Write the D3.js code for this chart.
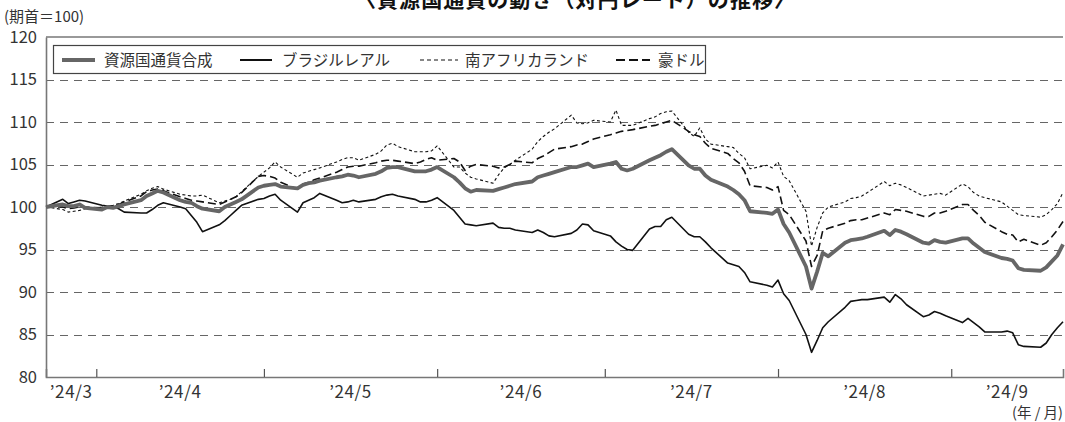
<!DOCTYPE html>
<html><head><meta charset="utf-8">
<script src="https://cdn.jsdelivr.net/npm/d3@7"></script>
<style>
body{margin:0;background:#fff}
svg{display:block}
text{font-family:"Noto Sans CJK JP","Noto Sans",sans-serif;fill:#333}
</style>
</head><body>
<svg id="c" width="1065" height="422"></svg>
<script>
// ---- data ----
const titleText = "〈資源国通貨の動き（対円レート）の推移〉";
const unitLabel = "(期首＝100)";
const xUnitLabel = "(年 / 月)";
const firstDay = "2024-03-22";
const lastDay = "2024-09-20";
const monthStarts = ["2024-04-01","2024-05-01","2024-06-01","2024-07-01","2024-08-01","2024-09-01"];
const monthLabels = ["’24/3","’24/4","’24/5","’24/6","’24/7","’24/8","’24/9"];
const yTicks = [80,85,90,95,100,105,110,115,120];
const seriesNames = ["資源国通貨合成","ブラジルレアル","南アフリカランド","豪ドル"];

const composite = [100,100.3,100.1,100.1,100.3,99.9,
99.7,100,99.9,100.1,100.3,100.8,101.3,101.6,101.9,101.7,100.8,100.6,100.5,100.1,99.8,99.5,100,100.3,100.6,100.9,102.3,102.5,
102.6,102.7,102.4,102.2,102.6,102.8,102.9,103.1,103.5,103.6,103.8,103.7,103.5,103.9,104.2,104.6,104.7,104.7,104.2,104.2,104.2,104.4,104.7,
103.5,102.9,102.2,101.8,102,101.9,102.1,102.3,102.5,102.7,103,103.5,103.7,103.9,104.1,104.7,104.7,104.9,105.1,104.7,
105.1,105.3,104.5,104.3,104.5,105.5,105.8,106.1,106.5,106.8,104.9,104.5,104.5,103.7,103.2,102.4,102,101.5,100.8,99.5,99.3,99.2,99.7,
98,97,93,90.4,92.4,94.6,94.2,95.8,96.1,96.2,96.3,96.5,97.2,96.7,97.3,97.1,96.8,95.8,95.7,96.1,95.9,95.8,
96.3,96.3,95.7,95.2,94.7,94,93.9,93.7,92.8,92.6,92.5,92.9,93.6,94.3,95.6];

const brazil = [100,100.9,100.4,100.6,100.8,100.7,
100.2,100.1,100.1,99.8,99.4,99.3,99.3,99.7,100.2,100.5,100,99.8,99,98.2,97.1,97.9,98.4,99,99.6,100.2,100.9,101,
101.3,101.5,100.8,99.4,100.5,100.8,101.1,101.6,100.8,100.5,100.6,100.8,100.6,100.9,101.2,101.4,101.5,101.3,100.9,100.6,100.6,100.8,101.1,
99.6,98.8,98,97.9,97.8,98.1,97.6,97.5,97.5,97.3,97,97.3,97,96.6,96.5,96.9,97.3,98,97.9,97.2,
96.6,95.9,95.4,95,94.9,97.4,97.7,97.7,98.5,98.8,96.8,96.5,96.5,95.9,95.2,93.4,93.2,93,92.3,91.2,90.8,90.6,91.4,
89.8,89,85,82.9,84.3,85.8,86.5,88.2,88.9,89,89.1,89.1,89.4,88.8,89.7,89.2,88.5,87.1,87.3,87.7,87.5,87.2,
86.4,86.9,86.4,85.9,85.3,85.3,85.4,85.2,83.8,83.6,83.5,84,85,85.8,86.5];

const southAfrica = [100,99.7,99.4,99.5,99.6,99.8,
100,100.1,100.2,100.4,100.7,101.5,101.9,102.2,102.4,102.1,101.5,101.4,101.3,101.3,101.4,100.5,100.7,100.9,101.2,101.8,103.6,104.1,
104.6,105.3,104.7,103.5,104,104.2,104.4,104.6,105.3,105.6,105.8,105.8,105.5,106.2,106.6,107.3,107.5,107.1,106.5,106.5,106.5,106.6,107.2,
104.7,104.7,104,103.5,103.3,102.8,103.8,104.6,105,105.5,106.8,107.7,108.3,108.8,109.2,110.8,109.9,109.8,109.9,110.2,
110,111.4,109.6,109.6,109.6,110.4,110.6,111,111.2,111.3,108.8,108.3,109.3,108,107.4,107.1,107,106.3,105.8,104.5,104.9,104.6,105.3,
103.6,103.1,99.5,95.4,97.6,99.3,100,100.6,101,101.1,101.3,101.7,103,102.5,102.8,102.6,102.3,101.3,101.4,101.5,101.6,101.4,
102.7,102.4,101.7,101.3,101.1,100.6,100.1,99.6,99.1,99,98.8,99.1,99.7,100.4,101.7];

const australia = [100,100,99.8,99.9,100,100,
99.9,100,100.1,100.3,100.6,101.3,101.8,102,102.1,101.9,101.2,101,100.8,100.7,100.6,100.3,100.6,100.9,101.2,101.7,103.6,103.7,
103.6,103.4,102.9,102.1,102.7,102.9,103.2,103.4,104.1,104.4,104.7,104.8,104.8,105.2,105.4,105.5,105.5,105.4,105.1,105.3,105.6,105.8,105.5,
105.7,105.3,104.3,104.8,105,104.8,104.6,104.7,105,105.4,105.2,105.7,106,106.4,106.8,107.1,107.3,107.4,107.7,108,
108.5,108.7,108.9,109,109.1,109.5,109.6,109.8,110,110.2,108.9,108.5,108.3,107.5,106.9,106.3,105.7,105.2,104.2,102.5,102.3,102,102.4,
99.6,99.1,96,93,94.3,97.2,97.5,98.1,98.4,98.5,98.5,98.7,99.3,99.1,99.7,99.6,99.5,98.9,98.9,99.3,99.3,99.5,
100.3,100.3,99.6,99,98.2,97.1,96.8,96.7,95.9,96.2,95.5,95.8,96.5,97.3,98.3];

// ---- layout ----
const svg = d3.select("#c");
const L = 46, R = 1063, T = 37, B = 377;
const parse = d3.utcParse("%Y-%m-%d");
const tradeDays = d3.utcDays(parse(firstDay), d3.utcDay.offset(parse(lastDay), 1))
  .filter(d => d.getUTCDay() !== 0 && d.getUTCDay() !== 6);
// values are recorded on the following (Tokyo) day
const plotDates = tradeDays.map(d => d3.utcDay.offset(d, 1));

const x = d3.scaleUtc().domain([plotDates[0], plotDates[plotDates.length-1]]).range([L, R]);
const y = d3.scaleLinear().domain([80, 120]).range([B, T]);

// title (partly cut at the top edge, as in the source)
svg.append("text").attr("x", 575).attr("y", 7).attr("text-anchor", "middle")
  .attr("font-size", 21).attr("font-weight", "bold").attr("textLength", 440).attr("lengthAdjust", "spacing")
  .style("fill", "#111").text(titleText);

// gridlines
svg.append("g").selectAll("line").data(yTicks.filter(v => v > 80 && v < 120)).join("line")
  .attr("x1", L).attr("x2", R).attr("y1", d => Math.round(y(d)) + 0.5).attr("y2", d => Math.round(y(d)) + 0.5)
  .attr("stroke", "#666").attr("stroke-width", 1.2).attr("stroke-dasharray", "8,6");

// frame: top line, left axis, bottom axis
svg.append("line").attr("x1", L).attr("x2", R).attr("y1", T).attr("y2", T).attr("stroke", "#777").attr("stroke-width", 1.5);
const yAxis = d3.axisLeft(y).tickValues(yTicks).tickSize(0).tickPadding(9);
const gy = svg.append("g").attr("transform", `translate(${L},0)`).call(yAxis);
gy.select(".domain").attr("stroke", "#777").attr("stroke-width", 1.6);
gy.selectAll("text").attr("font-size", 16.5).style("fill", "#333").style("font-family", '"Noto Sans CJK JP",sans-serif');

const monthDates = monthStarts.map(parse);
const xAxis = d3.axisBottom(x).tickValues(monthDates).tickSize(-8).tickFormat("");
const gx = svg.append("g").attr("transform", `translate(0,${B})`).call(xAxis);
gx.select(".domain").attr("stroke", "#777").attr("stroke-width", 1.6);
gx.selectAll(".tick line").attr("stroke", "#555").attr("stroke-width", 1.2);

// month labels, centred in each month span
const bounds = [x.domain()[0], ...monthDates, x.domain()[1]];
svg.append("g").selectAll("text").data(monthLabels).join("text")
  .attr("x", (d, i) => (x(bounds[i]) + x(bounds[i+1])) / 2)
  .attr("y", 398).attr("text-anchor", "middle").attr("font-size", 17).attr("letter-spacing", 0.6).text(d => d);

svg.append("text").attr("x", 4).attr("y", 22).attr("font-size", 15).text(unitLabel);
svg.append("text").attr("x", 1063).attr("y", 418).attr("text-anchor", "end").attr("font-size", 14.5).text(xUnitLabel);

// series
const styles = [
  {data: composite, stroke: "#666", width: 3.8, dash: null},
  {data: brazil, stroke: "#111", width: 1.6, dash: null},
  {data: southAfrica, stroke: "#111", width: 1.1, dash: "3,2.5"},
  {data: australia, stroke: "#111", width: 1.6, dash: "8,4"}
];
const line = d3.line().x((d, i) => x(plotDates[i])).y(d => y(d));
const drawOrder = [2, 3, 1, 0];
drawOrder.forEach(k => {
  const s = styles[k];
  svg.append("path").datum(s.data).attr("d", line)
    .attr("fill", "none").attr("stroke", s.stroke).attr("stroke-width", s.width)
    .attr("stroke-linejoin", "round").attr("stroke-dasharray", s.dash);
});

// legend
const lg = svg.append("g");
lg.append("rect").attr("x", 53.5).attr("y", 45.5).attr("width", 652).attr("height", 28)
  .attr("fill", "#fff").attr("stroke", "#444").attr("stroke-width", 1.2);
const legendPos = [
  {lx1: 62, lx2: 95, tx: 104},
  {lx1: 240, lx2: 272, tx: 282},
  {lx1: 420, lx2: 458, tx: 465},
  {lx1: 616, lx2: 650, tx: 658}
];
legendPos.forEach((p, i) => {
  const s = styles[i];
  lg.append("line").attr("x1", p.lx1).attr("x2", p.lx2).attr("y1", 60).attr("y2", 60)
    .attr("stroke", s.stroke).attr("stroke-width", i === 0 ? 4 : (i === 2 ? 1.2 : 2))
    .attr("stroke-dasharray", i === 2 ? "4,3" : (i === 3 ? "9,4" : null));
  lg.append("text").attr("x", p.tx).attr("y", 65.5).attr("font-size", 15.5).text(seriesNames[i]);
});
</script>
</body></html>
